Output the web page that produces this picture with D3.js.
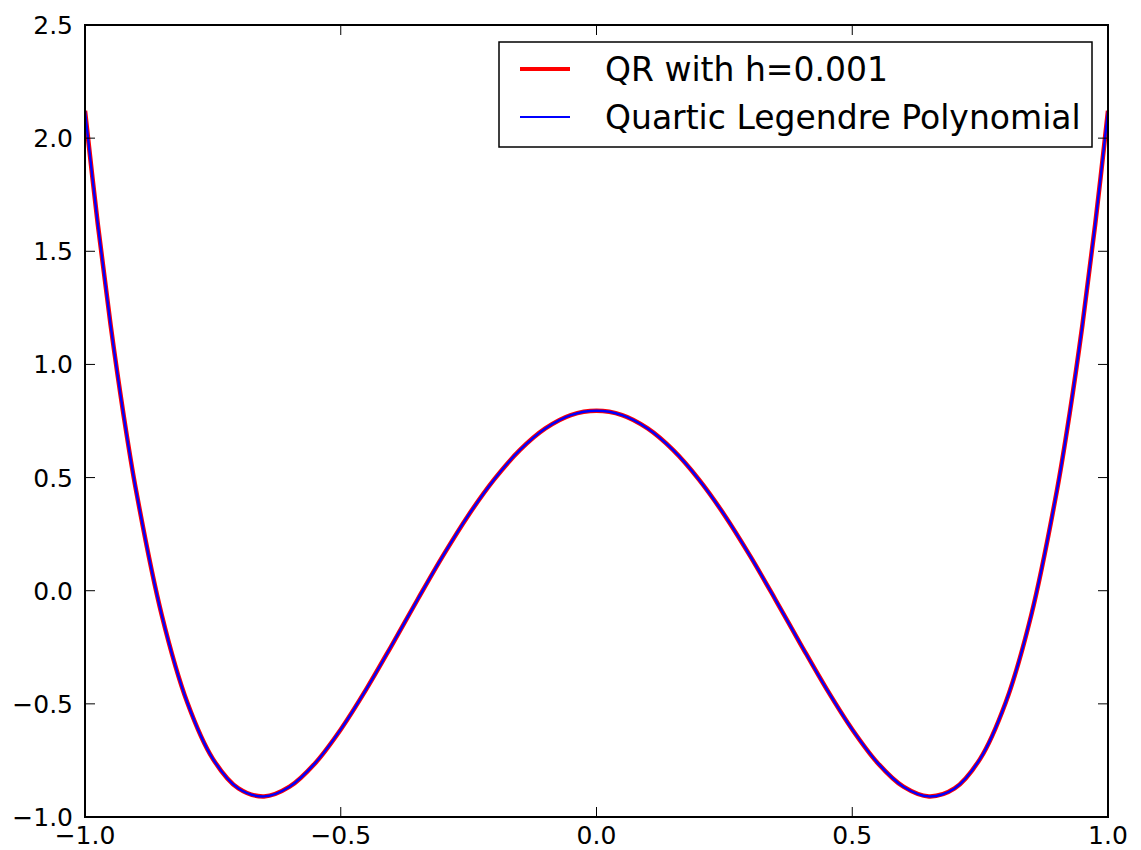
<!DOCTYPE html>
<html><head><meta charset="utf-8">
<script src="https://cdn.jsdelivr.net/npm/d3@7"></script>
<style>body{margin:0;background:#fff}svg{display:block}text{font-family:"DejaVu Sans",sans-serif}</style>
</head><body><svg id="c" width="1141" height="850"></svg>
<script>
const xVals = [-1,-0.975,-0.95,-0.925,-0.9,-0.85,-0.8,-0.75,-0.7,-0.65,-0.6,-0.55,-0.5,-0.45,-0.4,-0.35,-0.3,-0.25,-0.2,-0.15,-0.1,-0.05,0,0.05,0.1,0.15,0.2,0.25,0.3,0.35,0.4,0.45,0.5,0.55,0.6,0.65,0.7,0.75,0.8,0.85,0.9,0.925,0.95,0.975,1];
const qrValues = [2.121,1.620,1.175,0.783,0.441,-0.107,-0.494,-0.743,-0.874,-0.909,-0.866,-0.762,-0.613,-0.435,-0.240,-0.040,0.155,0.335,0.492,0.621,0.717,0.776,0.795,0.776,0.717,0.621,0.492,0.335,0.155,-0.040,-0.240,-0.435,-0.613,-0.762,-0.866,-0.909,-0.874,-0.743,-0.494,-0.107,0.441,0.783,1.175,1.620,2.121];
const legendreValues = [2.121,1.620,1.175,0.783,0.441,-0.107,-0.494,-0.743,-0.874,-0.909,-0.866,-0.762,-0.613,-0.435,-0.240,-0.040,0.155,0.335,0.492,0.621,0.717,0.776,0.795,0.776,0.717,0.621,0.492,0.335,0.155,-0.040,-0.240,-0.435,-0.613,-0.762,-0.866,-0.909,-0.874,-0.743,-0.494,-0.107,0.441,0.783,1.175,1.620,2.121];
const xTicks = [-1,-0.5,0,0.5,1];
const yTicks = [-1,-0.5,0,0.5,1,1.5,2,2.5];
const seriesNames = ["QR with h=0.001","Quartic Legendre Polynomial"];

const svg = d3.select("#c");
const L=85, R=1108, T=25, B=817;
const x = d3.scaleLinear().domain([-1,1]).range([L,R]);
const y = d3.scaleLinear().domain([-1,2.5]).range([B,T]);
const fmt = v => d3.format(".1f")(v).replace("-","\u2212");

svg.append("defs").append("clipPath").attr("id","clip").append("rect").attr("x",L).attr("y",T).attr("width",R-L).attr("height",B-T);
const g = svg.append("g").attr("clip-path","url(#clip)");
const line = vals => d3.line().x((d,i)=>x(xVals[i])).y(d=>y(d)).curve(d3.curveCatmullRom.alpha(0.5))(vals);
g.append("path").attr("d",line(qrValues)).attr("fill","none").attr("stroke","#ff0000").attr("stroke-width",4.5);
g.append("path").attr("d",line(legendreValues)).attr("fill","none").attr("stroke","#0000ff").attr("stroke-width",2.4);

const tl=10, fs=25;
const ax = svg.append("g");
xTicks.forEach(t=>{
  ax.append("line").attr("x1",x(t)).attr("x2",x(t)).attr("y1",B).attr("y2",B-tl).attr("stroke","#000").attr("stroke-width",1);
  ax.append("line").attr("x1",x(t)).attr("x2",x(t)).attr("y1",T).attr("y2",T+tl).attr("stroke","#000").attr("stroke-width",1);
  ax.append("text").attr("x",x(t)).attr("y",B+27).attr("text-anchor","middle").attr("font-size",fs).attr("fill","#000").text(fmt(t));
});
yTicks.forEach(t=>{
  ax.append("line").attr("x1",L).attr("x2",L+tl).attr("y1",y(t)).attr("y2",y(t)).attr("stroke","#000").attr("stroke-width",1);
  ax.append("line").attr("x1",R).attr("x2",R-tl).attr("y1",y(t)).attr("y2",y(t)).attr("stroke","#000").attr("stroke-width",1);
  ax.append("text").attr("x",L-12).attr("y",y(t)).attr("dy","0.36em").attr("text-anchor","end").attr("font-size",fs).attr("fill","#000").text(fmt(t));
});
ax.append("rect").attr("x",L).attr("y",T).attr("width",R-L).attr("height",B-T).attr("fill","none").attr("stroke","#000").attr("stroke-width",2);

const lg = svg.append("g");
lg.append("rect").attr("x",499).attr("y",42).attr("width",593).attr("height",105).attr("fill","#fff").attr("stroke","#000").attr("stroke-width",1.5);
const colors=["#ff0000","#0000ff"], widths=[4,1.8];
seriesNames.forEach((n,i)=>{
  const yy = 69 + i*48;
  lg.append("line").attr("x1",520).attr("x2",570).attr("y1",yy).attr("y2",yy).attr("stroke",colors[i]).attr("stroke-width",widths[i]);
  lg.append("text").attr("x",605).attr("y",yy).attr("dy","0.36em").attr("font-size",33).attr("fill","#000").text(n);
});
</script></body></html>
